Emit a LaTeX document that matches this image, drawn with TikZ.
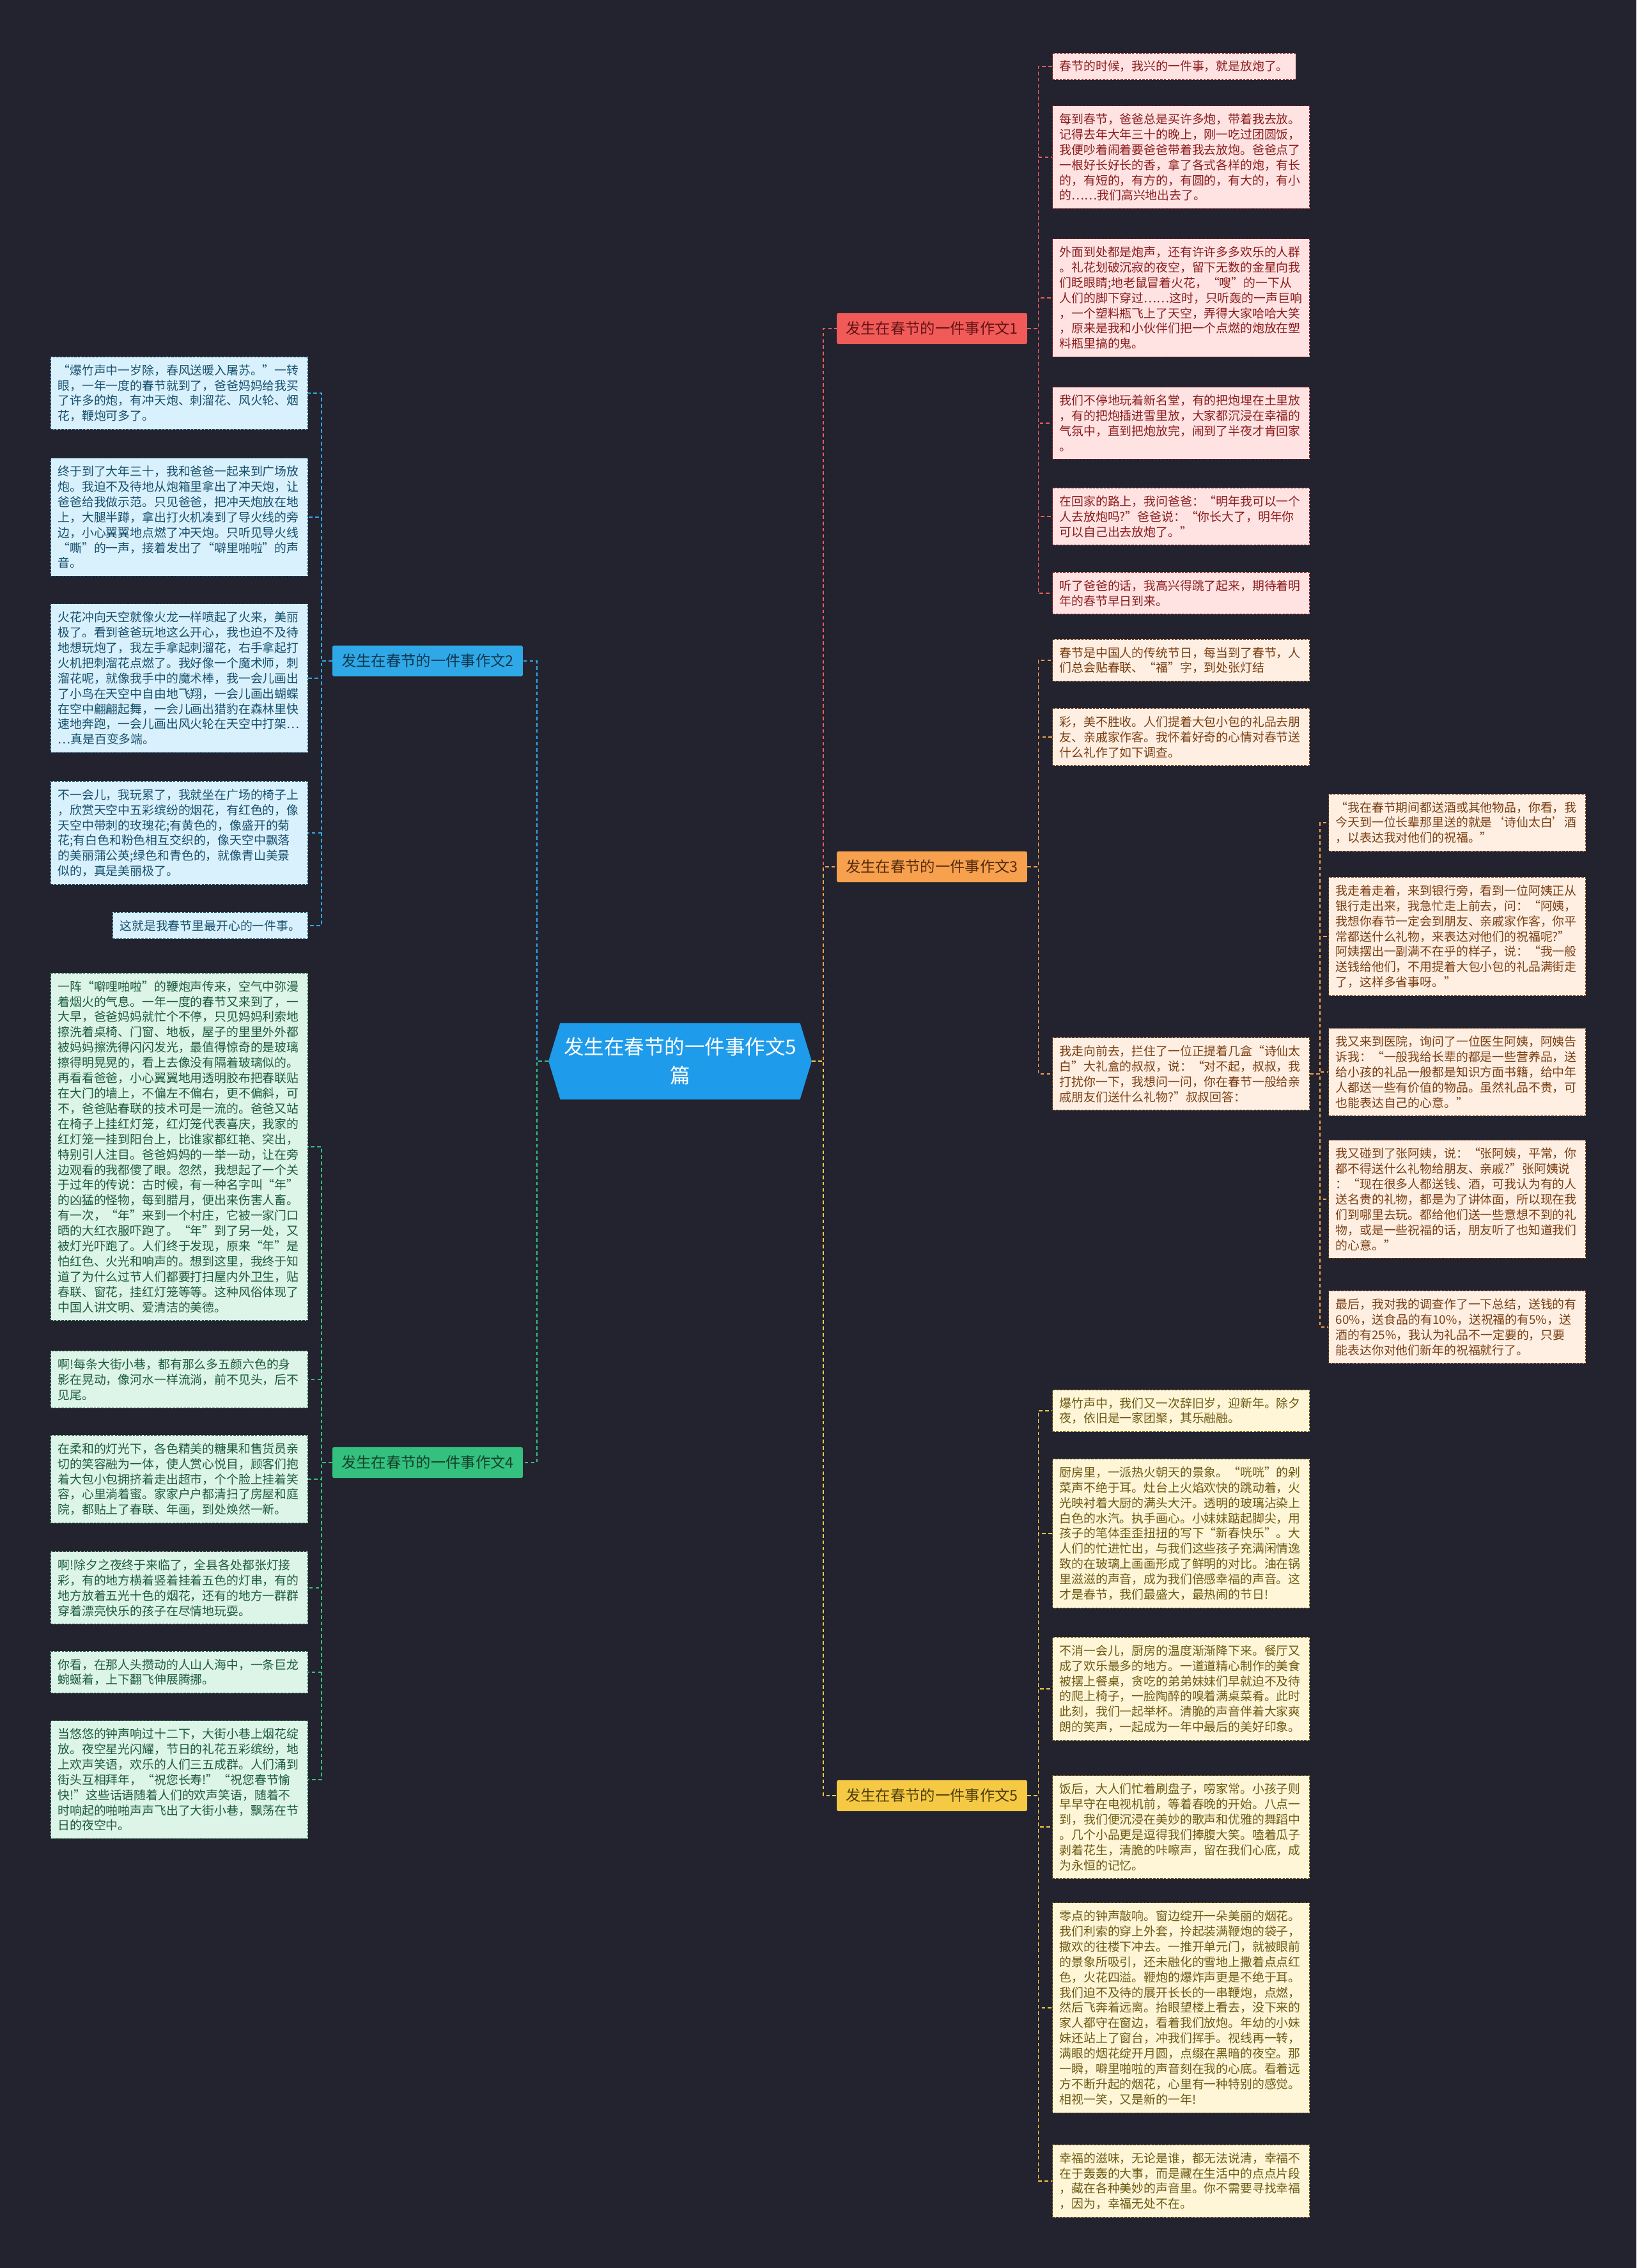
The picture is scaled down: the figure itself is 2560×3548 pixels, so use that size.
\documentclass[tikz,border=0pt]{standalone}
\usepackage{fontspec}
\setmainfont{Noto Sans CJK SC}
\usepackage{xcolor}
\usepackage{tikz}
\usetikzlibrary{shapes.symbols}
\definecolor{bgdark}{HTML}{22232F}
\definecolor{rootblue}{HTML}{1E9BEA}
\definecolor{redmain}{HTML}{F05A58}
\definecolor{redtext}{HTML}{8C1C1C}
\definecolor{redfill}{HTML}{FFE3E3}
\definecolor{orgmain}{HTML}{F7A04E}
\definecolor{orgtext}{HTML}{7B3F12}
\definecolor{orgfill}{HTML}{FFEFE3}
\definecolor{yelmain}{HTML}{F6C944}
\definecolor{yeltext}{HTML}{6E5A12}
\definecolor{yelfill}{HTML}{FFF6D8}
\definecolor{blumain}{HTML}{2FA8E8}
\definecolor{blutext}{HTML}{17506E}
\definecolor{blufill}{HTML}{D9F1FC}
\definecolor{grnmain}{HTML}{34C07E}
\definecolor{grntext}{HTML}{1D5C3C}
\definecolor{grnfill}{HTML}{DDF4E8}
\tikzstyle{rootnode} = [signal, signal to=west and east, signal pointer angle=146, fill=rootblue, text=white, minimum width=290pt, minimum height=85pt, inner xsep=4pt, align=center, font=\fontsize{22.4}{32}\selectfont]
\tikzstyle{branchnode} = [rectangle, rounded corners=2pt, inner xsep=10pt, inner ysep=9.5pt, font=\fontsize{16.6}{18}\selectfont]
\tikzstyle{leafbox} = [rectangle, draw, dash pattern=on 2.5pt off 1.5pt, line width=0.7pt, inner xsep=8pt, inner ysep=8.5pt, align=left, font=\fontsize{13.4}{17}\selectfont]
\tikzstyle{wide} = [text width=270pt]
\tikzstyle{redleaf} = [leafbox, fill=redfill, draw=redtext, text=redtext]
\tikzstyle{orgleaf} = [leafbox, fill=orgfill, draw=orgtext, text=orgtext]
\tikzstyle{yelleaf} = [leafbox, fill=yelfill, draw=yeltext, text=yeltext]
\tikzstyle{bluleaf} = [leafbox, fill=blufill, draw=blutext, text=blutext]
\tikzstyle{grnleaf} = [leafbox, fill=grnfill, draw=grntext, text=grntext]
\tikzstyle{link} = [dash pattern=on 4pt off 3pt, line width=1pt]

\begin{document}
\begin{tikzpicture}[x=0.025cm, y=-0.025cm]

    \useasboundingbox (0,0) rectangle (2560,3548);
    \fill [bgdark] (0,0) rectangle (2560,3548);

    % root and main branches
    \node (root) [rootnode] at (1064,1660) {发生在春节的一件事作文5\\篇};
    \node (b1) [branchnode, fill=redmain, text=redtext!70!black] at (1458,514) {发生在春节的一件事作文1};
    \node (b3) [branchnode, fill=orgmain, text=orgtext!70!black] at (1458,1356) {发生在春节的一件事作文3};
    \node (b5) [branchnode, fill=yelmain, text=yeltext!70!black] at (1458,2809) {发生在春节的一件事作文5};
    \node (b2) [branchnode, fill=blumain, text=blutext!70!black] at (669,1034) {发生在春节的一件事作文2};
    \node (b4) [branchnode, fill=grnmain, text=grntext!70!black] at (669,2288) {发生在春节的一件事作文4};

    % essay 1
    \node (r1a) [redleaf, anchor=west] at (1646,104) {春节的时候，我兴的一件事，就是放炮了。};
    \node (r1b) [redleaf, wide, anchor=west] at (1646,246) {每到春节，爸爸总是买许多炮，带着我去放。\\记得去年大年三十的晚上，刚一吃过团圆饭，\\我便吵着闹着要爸爸带着我去放炮。爸爸点了\\一根好长好长的香，拿了各式各样的炮，有长\\的，有短的，有方的，有圆的，有大的，有小\\的……我们高兴地出去了。};
    \node (r1c) [redleaf, wide, anchor=west] at (1646,466) {外面到处都是炮声，还有许许多多欢乐的人群\\。礼花划破沉寂的夜空，留下无数的金星向我\\们眨眼睛;地老鼠冒着火花，“嗖”的一下从\\人们的脚下穿过……这时，只听轰的一声巨响\\，一个塑料瓶飞上了天空，弄得大家哈哈大笑\\，原来是我和小伙伴们把一个点燃的炮放在塑\\料瓶里搞的鬼。};
    \node (r1d) [redleaf, wide, anchor=west] at (1646,662) {我们不停地玩着新名堂，有的把炮埋在土里放\\，有的把炮插进雪里放，大家都沉浸在幸福的\\气氛中，直到把炮放完，闹到了半夜才肯回家\\。};
    \node (r1e) [redleaf, wide, anchor=west] at (1646,808) {在回家的路上，我问爸爸：“明年我可以一个\\人去放炮吗?”爸爸说：“你长大了，明年你\\可以自己出去放炮了。”};
    \node (r1f) [redleaf, wide, anchor=west] at (1646,928) {听了爸爸的话，我高兴得跳了起来，期待着明\\年的春节早日到来。};

    % essay 3
    \node (r3a) [orgleaf, wide, anchor=west] at (1646,1033) {春节是中国人的传统节日，每当到了春节，人\\们总会贴春联、“福”字，到处张灯结};
    \node (r3b) [orgleaf, wide, anchor=west] at (1646,1153) {彩，美不胜收。人们提着大包小包的礼品去朋\\友、亲戚家作客。我怀着好奇的心情对春节送\\什么礼作了如下调查。};
    \node (r3c) [orgleaf, wide, anchor=west] at (1646,1680) {我走向前去，拦住了一位正提着几盒“诗仙太\\白”大礼盒的叔叔，说：“对不起，叔叔，我\\打扰你一下，我想问一问，你在春节一般给亲\\戚朋友们送什么礼物?”叔叔回答：};
    \node (d1) [orgleaf, wide, anchor=west] at (2078,1287) {“我在春节期间都送酒或其他物品，你看，我\\今天到一位长辈那里送的就是‘诗仙太白’酒\\，以表达我对他们的祝福。”};
    \node (d2) [orgleaf, wide, anchor=west] at (2078,1465) {我走着走着，来到银行旁，看到一位阿姨正从\\银行走出来，我急忙走上前去，问：“阿姨，\\我想你春节一定会到朋友、亲戚家作客，你平\\常都送什么礼物，来表达对他们的祝福呢?”\\阿姨摆出一副满不在乎的样子，说：“我一般\\送钱给他们，不用提着大包小包的礼品满街走\\了，这样多省事呀。”};
    \node (d3) [orgleaf, wide, anchor=west] at (2078,1677) {我又来到医院，询问了一位医生阿姨，阿姨告\\诉我：“一般我给长辈的都是一些营养品，送\\给小孩的礼品一般都是知识方面书籍，给中年\\人都送一些有价值的物品。虽然礼品不贵，可\\也能表达自己的心意。”};
    \node (d4) [orgleaf, wide, anchor=west] at (2078,1876) {我又碰到了张阿姨，说：“张阿姨，平常，你\\都不得送什么礼物给朋友、亲戚?”张阿姨说\\：“现在很多人都送钱、酒，可我认为有的人\\送名贵的礼物，都是为了讲体面，所以现在我\\们到哪里去玩。都给他们送一些意想不到的礼\\物，或是一些祝福的话，朋友听了也知道我们\\的心意。”};
    \node (d5) [orgleaf, wide, anchor=west] at (2078,2076) {最后，我对我的调查作了一下总结，送钱的有\\60\%，送食品的有10\%，送祝福的有5\%，送\\酒的有25\%，我认为礼品不一定要的，只要\\能表达你对他们新年的祝福就行了。};

    % essay 5
    \node (r5a) [yelleaf, wide, anchor=west] at (1646,2207) {爆竹声中，我们又一次辞旧岁，迎新年。除夕\\夜，依旧是一家团聚，其乐融融。};
    \node (r5b) [yelleaf, wide, anchor=west] at (1646,2399) {厨房里，一派热火朝天的景象。“咣咣”的剁\\菜声不绝于耳。灶台上火焰欢快的跳动着，火\\光映衬着大厨的满头大汗。透明的玻璃沾染上\\白色的水汽。执手画心。小妹妹踮起脚尖，用\\孩子的笔体歪歪扭扭的写下“新春快乐”。大\\人们的忙进忙出，与我们这些孩子充满闲情逸\\致的在玻璃上画画形成了鲜明的对比。油在锅\\里滋滋的声音，成为我们倍感幸福的声音。这\\才是春节，我们最盛大，最热闹的节日!};
    \node (r5c) [yelleaf, wide, anchor=west] at (1646,2642) {不消一会儿，厨房的温度渐渐降下来。餐厅又\\成了欢乐最多的地方。一道道精心制作的美食\\被摆上餐桌，贪吃的弟弟妹妹们早就迫不及待\\的爬上椅子，一脸陶醉的嗅着满桌菜肴。此时\\此刻，我们一起举杯。清脆的声音伴着大家爽\\朗的笑声，一起成为一年中最后的美好印象。};
    \node (r5d) [yelleaf, wide, anchor=west] at (1646,2858) {饭后，大人们忙着刷盘子，唠家常。小孩子则\\早早守在电视机前，等着春晚的开始。八点一\\到，我们便沉浸在美妙的歌声和优雅的舞蹈中\\。几个小品更是逗得我们捧腹大笑。嗑着瓜子\\剥着花生，清脆的咔嚓声，留在我们心底，成\\为永恒的记忆。};
    \node (r5e) [yelleaf, wide, anchor=west] at (1646,3141) {零点的钟声敲响。窗边绽开一朵美丽的烟花。\\我们利索的穿上外套，拎起装满鞭炮的袋子，\\撒欢的往楼下冲去。一推开单元门，就被眼前\\的景象所吸引，还未融化的雪地上撒着点点红\\色，火花四溢。鞭炮的爆炸声更是不绝于耳。\\我们迫不及待的展开长长的一串鞭炮，点燃，\\然后飞奔着远离。抬眼望楼上看去，没下来的\\家人都守在窗边，看着我们放炮。年幼的小妹\\妹还站上了窗台，冲我们挥手。视线再一转，\\满眼的烟花绽开月圆，点缀在黑暗的夜空。那\\一瞬，噼里啪啦的声音刻在我的心底。看着远\\方不断升起的烟花，心里有一种特别的感觉。\\相视一笑，又是新的一年!};
    \node (r5f) [yelleaf, wide, anchor=west] at (1646,3412) {幸福的滋味，无论是谁，都无法说清，幸福不\\在于轰轰的大事，而是藏在生活中的点点片段\\，藏在各种美妙的声音里。你不需要寻找幸福\\，因为，幸福无处不在。};

    % essay 2
    \node (l2a) [bluleaf, wide, anchor=east] at (482,615) {“爆竹声中一岁除，春风送暖入屠苏。”一转\\眼，一年一度的春节就到了，爸爸妈妈给我买\\了许多的炮，有冲天炮、刺溜花、风火轮、烟\\花，鞭炮可多了。};
    \node (l2b) [bluleaf, wide, anchor=east] at (482,809) {终于到了大年三十，我和爸爸一起来到广场放\\炮。我迫不及待地从炮箱里拿出了冲天炮，让\\爸爸给我做示范。只见爸爸，把冲天炮放在地\\上，大腿半蹲，拿出打火机凑到了导火线的旁\\边，小心翼翼地点燃了冲天炮。只听见导火线\\“嘶”的一声，接着发出了“噼里啪啦”的声\\音。};
    \node (l2c) [bluleaf, wide, anchor=east] at (482,1061) {火花冲向天空就像火龙一样喷起了火来，美丽\\极了。看到爸爸玩地这么开心，我也迫不及待\\地想玩炮了，我左手拿起刺溜花，右手拿起打\\火机把刺溜花点燃了。我好像一个魔术师，刺\\溜花呢，就像我手中的魔术棒，我一会儿画出\\了小鸟在天空中自由地飞翔，一会儿画出蝴蝶\\在空中翩翩起舞，一会儿画出猎豹在森林里快\\速地奔跑，一会儿画出风火轮在天空中打架…\\…真是百变多端。};
    \node (l2d) [bluleaf, wide, anchor=east] at (482,1303) {不一会儿，我玩累了，我就坐在广场的椅子上\\，欣赏天空中五彩缤纷的烟花，有红色的，像\\天空中带刺的玫瑰花;有黄色的，像盛开的菊\\花;有白色和粉色相互交织的，像天空中飘落\\的美丽蒲公英;绿色和青色的，就像青山美景\\似的，真是美丽极了。};
    \node (l2e) [bluleaf, anchor=east] at (482,1448) {这就是我春节里最开心的一件事。};

    % essay 4
    \node (l4a) [grnleaf, wide, anchor=east] at (482,1794) {一阵“噼哩啪啦”的鞭炮声传来，空气中弥漫\\着烟火的气息。一年一度的春节又来到了，一\\大早，爸爸妈妈就忙个不停，只见妈妈利索地\\擦洗着桌椅、门窗、地板，屋子的里里外外都\\被妈妈擦洗得闪闪发光，最值得惊奇的是玻璃\\擦得明晃晃的，看上去像没有隔着玻璃似的。\\再看看爸爸，小心翼翼地用透明胶布把春联贴\\在大门的墙上，不偏左不偏右，更不偏斜，可\\不，爸爸贴春联的技术可是一流的。爸爸又站\\在椅子上挂红灯笼，红灯笼代表喜庆，我家的\\红灯笼一挂到阳台上，比谁家都红艳、突出，\\特别引人注目。爸爸妈妈的一举一动，让在旁\\边观看的我都傻了眼。忽然，我想起了一个关\\于过年的传说：古时候，有一种名字叫“年”\\的凶猛的怪物，每到腊月，便出来伤害人畜。\\有一次，“年”来到一个村庄，它被一家门口\\晒的大红衣服吓跑了。“年”到了另一处，又\\被灯光吓跑了。人们终于发现，原来“年”是\\怕红色、火光和响声的。想到这里，我终于知\\道了为什么过节人们都要打扫屋内外卫生，贴\\春联、窗花，挂红灯笼等等。这种风俗体现了\\中国人讲文明、爱清洁的美德。};
    \node (l4b) [grnleaf, wide, anchor=east] at (482,2158) {啊!每条大街小巷，都有那么多五颜六色的身\\影在晃动，像河水一样流淌，前不见头，后不\\见尾。};
    \node (l4c) [grnleaf, wide, anchor=east] at (482,2314) {在柔和的灯光下，各色精美的糖果和售货员亲\\切的笑容融为一体，使人赏心悦目，顾客们抱\\着大包小包拥挤着走出超市，个个脸上挂着笑\\容，心里淌着蜜。家家户户都清扫了房屋和庭\\院，都贴上了春联、年画，到处焕然一新。};
    \node (l4d) [grnleaf, wide, anchor=east] at (482,2484) {啊!除夕之夜终于来临了，全县各处都张灯接\\彩，有的地方横着竖着挂着五色的灯串，有的\\地方放着五光十色的烟花，还有的地方一群群\\穿着漂亮快乐的孩子在尽情地玩耍。};
    \node (l4e) [grnleaf, wide, anchor=east] at (482,2616) {你看，在那人头攒动的人山人海中，一条巨龙\\蜿蜒着，上下翻飞伸展腾挪。};
    \node (l4f) [grnleaf, wide, anchor=east] at (482,2784) {当悠悠的钟声响过十二下，大街小巷上烟花绽\\放。夜空星光闪耀，节日的礼花五彩缤纷，地\\上欢声笑语，欢乐的人们三五成群。人们涌到\\街头互相拜年，“祝您长寿!”“祝您春节愉\\快!”这些话语随着人们的欢声笑语，随着不\\时响起的啪啪声声飞出了大街小巷，飘荡在节\\日的夜空中。};

    % links
    \draw [link, redmain] (root.east) -- ++(18,0) |- (b1.west);
    \draw [link, orgmain] (root.east) -- ++(18,0) |- (b3.west);
    \draw [link, yelmain] (root.east) -- ++(18,0) |- (b5.west);
    \draw [link, blumain] (root.west) -- ++(-18,0) |- (b2.east);
    \draw [link, grnmain] (root.west) -- ++(-18,0) |- (b4.east);

    \foreach \leaf in {r1a,r1b,r1c,r1d,r1e,r1f}
        \draw [link, redmain] (b1.east) -- ++(17,0) |- (\leaf.west);
    \foreach \leaf in {r3a,r3b,r3c}
        \draw [link, orgmain] (b3.east) -- ++(17,0) |- (\leaf.west);
    \foreach \leaf in {d1,d2,d3,d4,d5}
        \draw [link, orgmain] (r3c.east) -- ++(16,0) |- (\leaf.west);
    \foreach \leaf in {r5a,r5b,r5c,r5d,r5e,r5f}
        \draw [link, yelmain] (b5.east) -- ++(17,0) |- (\leaf.west);
    \foreach \leaf in {l2a,l2b,l2c,l2d,l2e}
        \draw [link, blumain] (b2.west) -- ++(-17,0) |- (\leaf.east);
    \foreach \leaf in {l4a,l4b,l4c,l4d,l4e,l4f}
        \draw [link, grnmain] (b4.west) -- ++(-17,0) |- (\leaf.east);

\end{tikzpicture}
\end{document}
